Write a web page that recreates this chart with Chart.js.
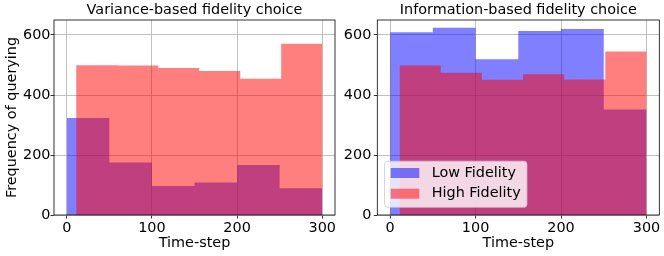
<!DOCTYPE html>
<html>
<head>
<meta charset="utf-8">
<script src="https://cdn.jsdelivr.net/npm/chart.js@4.4.1/dist/chart.umd.min.js"></script>
<style>
  html, body { margin: 0; padding: 0; background: #fff; }
  #wrap { position: relative; width: 664px; height: 256px; overflow: hidden; }
  canvas { position: absolute; top: 0; }
</style>
</head>
<body>
<div id="wrap">
  <canvas id="left" width="340" height="256" style="left:0px"></canvas>
  <canvas id="right" width="334" height="256" style="left:330px"></canvas>
</div>
<script>
const xTicks = [0, 100, 200, 300];
const yTicks = [0, 200, 400, 600];
const seriesNames = ["Low Fidelity", "High Fidelity"];

// histogram bin edges (time-step)
const lowEdges  = [0, 50, 100, 150, 200, 250, 300];
const highEdges = [11, 59.2, 107.3, 155.5, 203.7, 251.8, 300];

// Variance-based fidelity choice
const varLow  = [323, 175, 97, 108, 167, 89];
const varHigh = [499, 498, 490, 480, 454, 571];

// Information-based fidelity choice
const infoLow  = [609, 624, 519, 613, 620, 352];
const infoHigh = [498, 474, 451, 469, 452, 545];

const FONT = '"DejaVu Sans", sans-serif';
const FS = 14.4;
const BLUE = "rgba(0,0,255,0.5)";
const RED  = "rgba(255,0,0,0.5)";

// step points: each count holds from its left edge to the next edge
function histPoints(edges, counts) {
  const pts = counts.map((c, i) => ({ x: edges[i], y: c }));
  pts.push({ x: edges[edges.length - 1], y: counts[counts.length - 1] });
  return pts;
}

// ── Plugins ───────────────────────────────────────────────────────────────────
const framePlugin = {
  id: "frame",
  afterDraw(chart) {
    const { ctx, chartArea: a } = chart;
    ctx.save();
    ctx.strokeStyle = "#000";
    ctx.lineWidth = 0.8;
    ctx.strokeRect(a.left, a.top, a.right - a.left, a.bottom - a.top);
    ctx.restore();
  }
};

const boxLegend = {
  id: "boxLegend",
  afterDraw(chart) {
    const { ctx, chartArea: a } = chart;
    const items = chart.data.datasets.map(d => ({ label: d.label, color: d.backgroundColor }));
    ctx.save();
    ctx.font = FS + "px " + FONT;
    const textW = Math.max(...items.map(it => ctx.measureText(it.label).width));
    const pad = 6.2, patchW = 28.6, patchH = 10, gap = 12.4, rowH = 20.7;
    const boxW = pad + patchW + gap + textW + pad;
    const boxH = 46;
    const x0 = a.left + 7.2, y0 = a.bottom - 7.8 - boxH;

    ctx.beginPath();
    ctx.roundRect(x0, y0, boxW, boxH, 3);
    ctx.fillStyle = "rgba(255,255,255,0.8)";
    ctx.fill();
    ctx.strokeStyle = "rgba(204,204,204,0.8)";
    ctx.lineWidth = 1;
    ctx.stroke();

    items.forEach((it, i) => {
      const py = y0 + 6.8 + i * rowH;
      ctx.fillStyle = it.color;
      ctx.fillRect(x0 + pad, py, patchW, patchH);
      ctx.fillStyle = "#000";
      ctx.textAlign = "left";
      ctx.textBaseline = "middle";
      ctx.fillText(it.label, x0 + pad + patchW + gap, py + patchH / 2);
    });
    ctx.restore();
  }
};

// ── Chart builder ─────────────────────────────────────────────────────────────
function makeHist(id, title, low, high, opt) {
  const plugins = [framePlugin];
  if (opt.legend) plugins.push(boxLegend);

  return new Chart(document.getElementById(id), {
    type: "line",
    data: {
      datasets: [
        {
          label: seriesNames[0],
          data: histPoints(lowEdges, low),
          stepped: "before",
          fill: "origin",
          backgroundColor: BLUE,
          borderColor: "rgba(0,0,0,0)",
          borderWidth: 0,
          pointRadius: 0,
          order: 1
        },
        {
          label: seriesNames[1],
          data: histPoints(highEdges, high),
          stepped: "before",
          fill: "origin",
          backgroundColor: RED,
          borderColor: "rgba(0,0,0,0)",
          borderWidth: 0,
          pointRadius: 0,
          order: 0
        }
      ]
    },
    options: {
      responsive: false,
      animation: false,
      devicePixelRatio: 1,
      layout: { padding: { left: 0, right: opt.padRight, top: 0, bottom: 0 } },
      plugins: {
        legend: { display: false },
        tooltip: { enabled: false },
        title: {
          display: true,
          text: title,
          fullSize: false,
          color: "#000",
          font: { family: FONT, size: FS, weight: "normal", lineHeight: 1.2 },
          padding: { top: 1.8, bottom: 0.92 }
        }
      },
      scales: {
        x: {
          type: "linear",
          min: -15,
          max: 315,
          z: 1,
          afterBuildTicks: s => { s.ticks = xTicks.map(v => ({ value: v })); },
          afterFit: s => { s.height = 41; },
          grid: { color: "#b0b0b0", lineWidth: 0.8, tickColor: "#000", tickLength: 3.5, drawTicks: true },
          border: { display: false },
          ticks: {
            color: "#000", padding: 1.5, maxRotation: 0, autoSkip: false,
            font: { family: FONT, size: FS }
          },
          title: {
            display: true, text: "Time-step", color: "#000",
            font: { family: FONT, size: FS },
            padding: { top: 0, bottom: 4.2 }
          }
        },
        y: {
          type: "linear",
          min: 0,
          max: 650,
          z: 1,
          afterBuildTicks: s => { s.ticks = yTicks.map(v => ({ value: v })); },
          afterFit: s => { s.width = opt.yWidth; },
          grid: { color: "#b0b0b0", lineWidth: 0.8, tickColor: "#000", tickLength: 3.5, drawTicks: true },
          border: { display: false },
          ticks: {
            color: "#000", padding: opt.yPad,
            font: { family: FONT, size: FS }
          },
          title: {
            display: opt.yTitle,
            text: "Frequency of querying",
            color: "#000",
            font: { family: FONT, size: FS },
            padding: { top: 3.3, bottom: 0 }
          }
        }
      }
    },
    plugins
  });
}

makeHist("left", "Variance-based fidelity choice", varLow, varHigh,
  { padRight: 5, yWidth: 54, yPad: 0, yTitle: true, legend: false });
makeHist("right", "Information-based fidelity choice", infoLow, infoHigh,
  { padRight: 4.7, yWidth: 47.3, yPad: 2.5, yTitle: false, legend: true });
</script>
</body>
</html>
